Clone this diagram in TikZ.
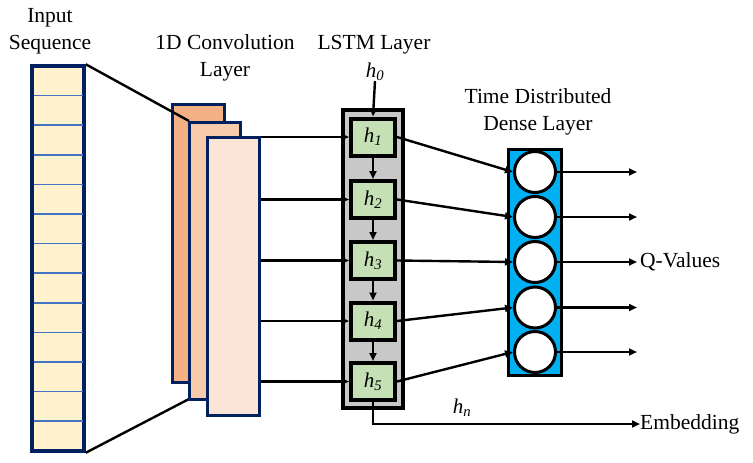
\documentclass[tikz,border=0pt]{standalone}
\usepackage{fontspec}
\setmainfont{Liberation Serif}
\newfontfamily\tnr{Liberation Serif}
\usetikzlibrary{arrows.meta}
\definecolor{navy}{HTML}{002060}
\definecolor{inpfill}{HTML}{FFF2CC}
\definecolor{sepblue}{HTML}{4472C4}
\definecolor{convA}{HTML}{F4B183}
\definecolor{convB}{HTML}{F8CBAD}
\definecolor{convC}{HTML}{FBE5D6}
\definecolor{lstmgray}{HTML}{C8C8C8}
\definecolor{hgreen}{HTML}{C5E0B4}
\definecolor{denseblue}{HTML}{00B0F0}
\begin{document}
\begin{tikzpicture}[x=1pt,y=-1pt,
  lbl/.style={font=\tnr\fontsize{21.5}{27}\selectfont, align=center, inner sep=0pt},
  hlbl/.style={font=\tnr\fontsize{21}{24}\selectfont\itshape, inner sep=0pt},
  convbox/.style={draw=navy, line width=3pt, minimum width=52pt, minimum height=278pt, inner sep=0pt},
  hbox/.style={draw=black, line width=4pt, fill=hgreen, minimum width=44pt, minimum height=37pt, inner sep=0pt, font=\tnr\fontsize{21}{24}\selectfont\itshape},
  neuron/.style={circle, draw=black, line width=3pt, fill=white, minimum size=41pt, inner sep=0pt},
  conn/.style={line width=2.4pt, -{Triangle[length=8pt,width=7pt]}},
  plain/.style={line width=2.4pt}
]
\useasboundingbox (0,0) rectangle (753,463);

% labels
\node[lbl] (tinp) at (50,31) {Input\\Sequence};
\node[lbl] (tconv) at (225,58) {1D Convolution\\Layer};
\node[lbl] (tlstm) at (374,45) {LSTM Layer};
\node[lbl] (tdense) at (538,112) {Time Distributed\\Dense Layer};

% input sequence
\node[draw=navy, line width=3.5pt, fill=inpfill, minimum width=52pt, minimum height=385pt, inner sep=0pt] (inp) at (58,258.5) {};
\foreach \i in {1,...,12}
  \draw[sepblue, line width=1.6pt] (33.5,{66+\i*29.6}) -- (82.5,{66+\i*29.6});

% conv layer
\node[convbox, fill=convA] (c1) at (198,243) {};
\draw[plain] (inp.north east) -- (189,121) coordinate (c2nw);
\draw[plain] (inp.south east) -- (189,399) coordinate (c2sw);
\node[convbox, fill=convB, minimum width=51pt, minimum height=277pt] (c2) at (214.5,260.5) {};
\node[convbox, fill=convC] (c3) at (233,276.5) {};

% LSTM
\node[draw=black, line width=3.5pt, fill=lstmgray, minimum width=60pt, minimum height=298pt, inner sep=0pt] (lstm) at (373,259) {};
\node[hbox] (h1) at (373,137) {h\textsubscript{1}};
\node[hbox] (h2) at (373,199.5) {h\textsubscript{2}};
\node[hbox] (h3) at (373,260.5) {h\textsubscript{3}};
\node[hbox] (h4) at (373,321) {h\textsubscript{4}};
\node[hbox] (h5) at (373,381.5) {h\textsubscript{5}};
\node[hlbl] (h0) at (375,72) {h\textsubscript{0}};
\draw[conn] (h0.south) -- (h1.north);
\draw[conn] (h1.south) -- (h2.north);
\draw[conn] (h2.south) -- (h3.north);
\draw[conn] (h3.south) -- (h4.north);
\draw[conn] (h4.south) -- (h5.north);

% conv -> lstm
\foreach \i in {1,...,5}
  \draw[conn] (c3.east |- h\i.west) -- (h\i.west);

% dense
\node[draw=black, line width=3pt, fill=denseblue, minimum width=53pt, minimum height=226pt, inner sep=0pt] (dense) at (534.5,262) {};
\node[neuron] (n1) at (535,172) {};
\node[neuron] (n2) at (535,217) {};
\node[neuron] (n3) at (535,262) {};
\node[neuron] (n4) at (535,307.5) {};
\node[neuron] (n5) at (535,352) {};

\foreach \i in {1,...,5}
  \draw[conn] (h\i.east) -- (n\i.west);

% outputs
\foreach \i in {1,...,5}
  \draw[conn] (n\i.east) -- (637,0 |- n\i.east);
\node[lbl, anchor=west] (q) at (640,262) {Q-Values};

% embedding
\node[lbl, anchor=west] (emb) at (640,424) {Embedding};
\draw[conn] (h5.south) |- (emb.west);
\node[hlbl] (hn) at (462,408) {h\textsubscript{n}};
\end{tikzpicture}
\end{document}
